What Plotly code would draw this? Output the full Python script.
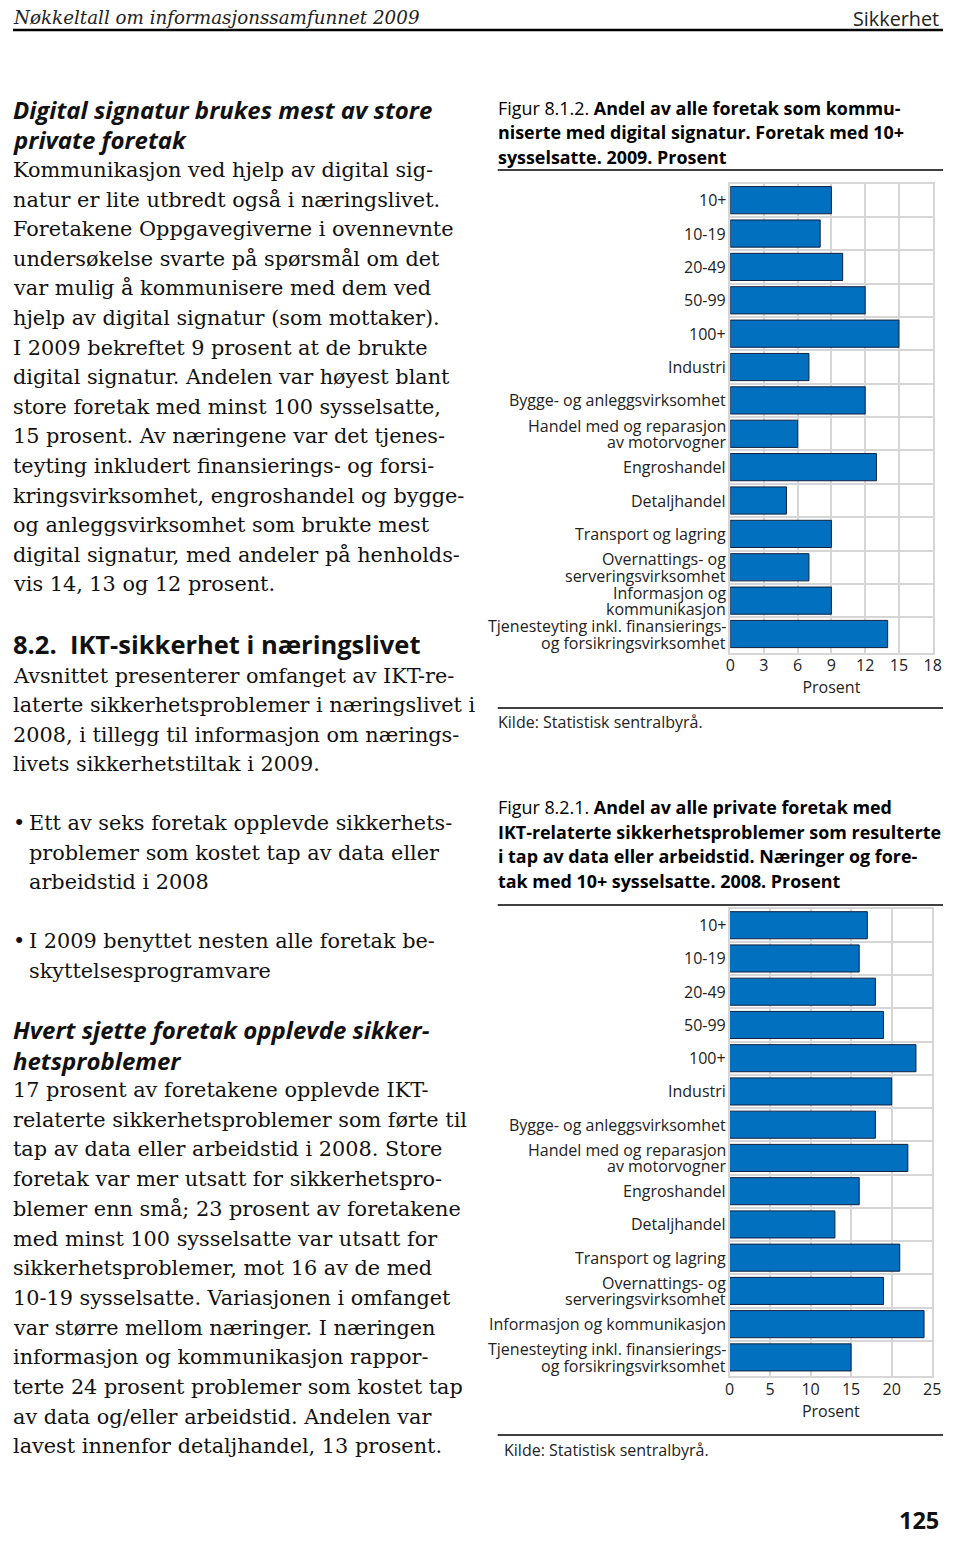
import plotly.graph_objects as go

# The page shows the figure inside the default 8 px body margin; the figure is made
# 16 px smaller than the 960x1545 window so that nothing overflows the page.
PAGE_W, PAGE_H = 960, 1545
OFF = 8
W, H = PAGE_W - 2 * OFF, PAGE_H - 2 * OFF

# ---------------- data ----------------
cats1 = ["10+", "10-19", "20-49", "50-99", "100+", "Industri",
         "Bygge- og anleggsvirksomhet",
         "Handel med og reparasjon<br>av motorvogner",
         "Engroshandel", "Detaljhandel", "Transport og lagring",
         "Overnattings- og<br>serveringsvirksomhet",
         "Informasjon og<br>kommunikasjon",
         "Tjenesteyting inkl. finansierings-<br>og forsikringsvirksomhet"]
vals1 = [9, 8, 10, 12, 15, 7, 12, 6, 13, 5, 9, 7, 9, 14]
ticks1 = [0, 3, 6, 9, 12, 15, 18]

cats2 = ["10+", "10-19", "20-49", "50-99", "100+", "Industri",
         "Bygge- og anleggsvirksomhet",
         "Handel med og reparasjon<br>av motorvogner",
         "Engroshandel", "Detaljhandel", "Transport og lagring",
         "Overnattings- og<br>serveringsvirksomhet",
         "Informasjon og kommunikasjon",
         "Tjenesteyting inkl. finansierings-<br>og forsikringsvirksomhet"]
vals2 = [17, 16, 18, 19, 23, 20, 18, 22, 16, 13, 21, 19, 24, 15]
ticks2 = [0, 5, 10, 15, 20, 25]

# ---------------- text ----------------
header_left = "Nøkkeltall om informasjonssamfunnet 2009"
header_right = "Sikkerhet"
page_no = "125"

heading1 = ["Digital signatur brukes mest av store", "private foretak"]
para1 = ["Kommunikasjon ved hjelp av digital sig-",
         "natur er lite utbredt også i næringslivet.",
         "Foretakene Oppgavegiverne i ovennevnte",
         "undersøkelse svarte på spørsmål om det",
         "var mulig å kommunisere med dem ved",
         "hjelp av digital signatur (som mottaker).",
         "I 2009 bekreftet 9 prosent at de brukte",
         "digital signatur. Andelen var høyest blant",
         "store foretak med minst 100 sysselsatte,",
         "15 prosent. Av næringene var det tjenes-",
         "teyting inkludert finansierings- og forsi-",
         "kringsvirksomhet, engroshandel og bygge-",
         "og anleggsvirksomhet som brukte mest",
         "digital signatur, med andeler på henholds-",
         "vis 14, 13 og 12 prosent."]
heading2 = "8.2.  IKT-sikkerhet i næringslivet"
para2 = ["Avsnittet presenterer omfanget av IKT-re-",
         "laterte sikkerhetsproblemer i næringslivet i",
         "2008, i tillegg til informasjon om nærings-",
         "livets sikkerhetstiltak i 2009."]
bullet1 = ["Ett av seks foretak opplevde sikkerhets-",
           "problemer som kostet tap av data eller",
           "arbeidstid i 2008"]
bullet2 = ["I 2009 benyttet nesten alle foretak be-",
           "skyttelsesprogramvare"]
heading3 = ["Hvert sjette foretak opplevde sikker-", "hetsproblemer"]
para3 = ["17 prosent av foretakene opplevde IKT-",
         "relaterte sikkerhetsproblemer som førte til",
         "tap av data eller arbeidstid i 2008. Store",
         "foretak var mer utsatt for sikkerhetspro-",
         "blemer enn små; 23 prosent av foretakene",
         "med minst 100 sysselsatte var utsatt for",
         "sikkerhetsproblemer, mot 16 av de med",
         "10-19 sysselsatte. Variasjonen i omfanget",
         "var større mellom næringer. I næringen",
         "informasjon og kommunikasjon rappor-",
         "terte 24 prosent problemer som kostet tap",
         "av data og/eller arbeidstid. Andelen var",
         "lavest innenfor detaljhandel, 13 prosent."]

cap1 = ["Figur 8.1.2. <b>Andel av alle foretak som kommu-</b>",
        "<b>niserte med digital signatur. Foretak med 10+</b>",
        "<b>sysselsatte. 2009. Prosent</b>"]
cap2 = ["Figur 8.2.1. <b>Andel av alle private foretak med</b>",
        "<b>IKT-relaterte sikkerhetsproblemer som resulterte</b>",
        "<b>i tap av data eller arbeidstid. Næringer og fore-</b>",
        "<b>tak med 10+ sysselsatte. 2008. Prosent</b>"]
source = "Kilde: Statistisk sentralbyrå."
xtitle = "Prosent"


# ---------------- layout helpers (page pixels -> paper fractions) ----------------
def X(px):
    return min(max(px - OFF, 0), W) / W


def Y(py):
    return 1 - (py - OFF) / H


SERIF = "DejaVu Serif"
SANS = "Open Sans"
BLUE = "#0070bf"
GRID = "#d6d6d6"
TICK = "#222"

annotations = []


def add(text, x, y, size, family, color="#111", xanchor="left"):
    annotations.append(dict(text=text, x=X(x), y=Y(y), xref="paper", yref="paper",
                            xanchor=xanchor, yanchor="middle", showarrow=False,
                            align=xanchor, borderpad=0, borderwidth=0,
                            font=dict(size=size, family=family, color=color)))


def lines(lst, y0, step, x, size, family, color="#111"):
    for i, t in enumerate(lst):
        add(t, x, y0 + i * step, size, family, color)


# header
add("<i>" + header_left + "</i>", 3, 18, 18.3, SERIF, "#222")
add(header_right, 948, 19, 19.8, SANS, "#222", xanchor="right")
add("<b>" + page_no + "</b>", 948, 1520, 23.5, SANS, "#111", xanchor="right")

# left column
lines(["<b><i>" + t + "</i></b>" for t in heading1], 109, 30, 3, 24, SANS)
lines(para1, 170, 29.6, 3, 20.8, SERIF)
add("<b>" + heading2 + "</b>", 3, 644, 25.5, SANS, "#111")
lines(para2, 676, 29.3, 3, 20.8, SERIF)
add("•", 5, 823, 20.8, SERIF)
lines(bullet1, 823, 29.5, 24, 20.8, SERIF)
add("•", 5, 941, 20.8, SERIF)
lines(bullet2, 941, 29.5, 24, 20.8, SERIF)
lines(["<b><i>" + t + "</i></b>" for t in heading3], 1030, 30, 3, 24, SANS)
lines(para3, 1090, 29.7, 3, 20.8, SERIF)

# right column captions
lines(cap1, 108, 24.5, 500, 17.9, SANS, "#000")
lines(cap2, 807, 24.7, 500, 17.9, SANS, "#000")
add(source, 500, 722, 16, SANS, TICK)
add(source, 506, 1450, 16, SANS, TICK)

shapes = []
for yy, x0, x1, w in [(30, 0, 960, 2.5), (170, 500, 957, 1.5), (708, 500, 957, 1.5),
                      (905, 500, 957, 1.5), (1435, 500, 957, 1.5)]:
    shapes.append(dict(type="line", xref="paper", yref="paper",
                       x0=X(x0), x1=X(x1), y0=Y(yy), y1=Y(yy),
                       line=dict(color="#000", width=w)))

fig = go.Figure()
bar_style = dict(marker=dict(color=BLUE, line=dict(color="#102040", width=1)),
                 orientation="h", showlegend=False, hoverinfo="x+y")
fig.add_trace(go.Bar(x=vals1, y=cats1, xaxis="x", yaxis="y", **bar_style))
fig.add_trace(go.Bar(x=vals2, y=cats2, xaxis="x2", yaxis="y2", **bar_style))

tickfont = dict(size=16, family=SANS, color=TICK)


def xax(domain, anchor, rng, tv):
    return dict(domain=domain, anchor=anchor, range=rng, tickvals=tv,
                showgrid=True, gridcolor=GRID, gridwidth=2, zeroline=False,
                showline=True, linecolor=GRID, linewidth=2, mirror=True,
                ticks="", tickfont=tickfont, fixedrange=True,
                ticklabelstandoff=-3,
                title=dict(text=xtitle, font=tickfont, standoff=2))


def yax(domain, anchor, cats):
    return dict(domain=domain, anchor=anchor, type="category", categoryorder="array",
                categoryarray=cats, autorange="reversed", tickson="boundaries",
                showgrid=True, gridcolor=GRID, gridwidth=2,
                showline=True, linecolor=GRID, linewidth=2, mirror=True,
                ticks="", showticklabels=False, fixedrange=True)


# category labels at the category positions of each y axis (tight line spacing)
def cat_labels(cats, yref, xdom0):
    for c in cats:
        parts = c.split("<br>")
        shifts = [0] if len(parts) == 1 else [8, -8.5]
        for p, s in zip(parts, shifts):
            annotations.append(dict(text=p, x=xdom0, y=c, xref="paper", yref=yref,
                                    xanchor="right", yanchor="middle", xshift=-4,
                                    yshift=s, showarrow=False, borderpad=0,
                                    borderwidth=0, font=tickfont))


xd1 = [X(736), X(941.5)]
xd2 = [X(735.3), X(941)]
cat_labels(cats1, "y", xd1[0])
cat_labels(cats2, "y2", xd2[0])

fig.update_layout(
    width=W, height=H, margin=dict(l=0, r=0, t=0, b=0),
    paper_bgcolor="white", plot_bgcolor="white",
    bargap=0.185,
    xaxis=xax(xd1, "y", [0, 18], ticks1),
    yaxis=yax([Y(653), Y(183.5)], "x", cats1),
    xaxis2=xax(xd2, "y2", [0, 25], ticks2),
    yaxis2=yax([Y(1376.4), Y(908.6)], "x2", cats2),
    annotations=annotations, shapes=shapes,
)

fig.write_html("out.html")
